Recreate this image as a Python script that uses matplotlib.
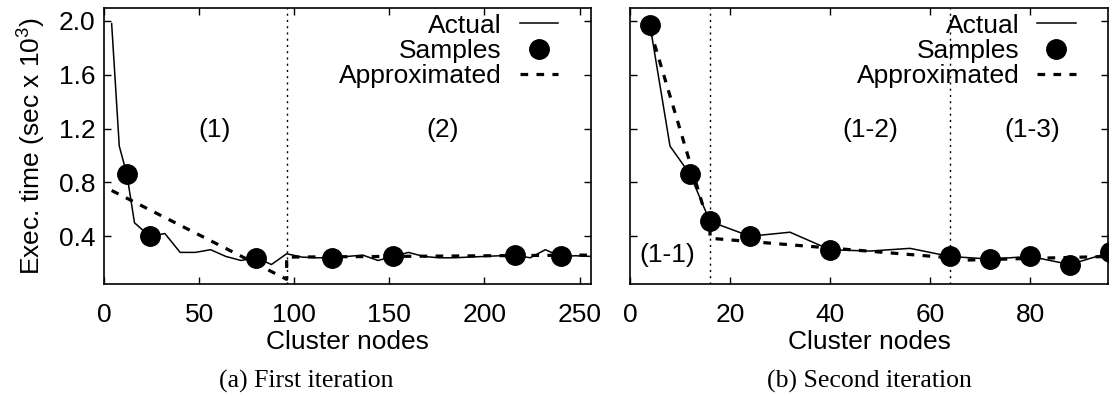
import matplotlib
matplotlib.use('Agg')
import matplotlib.pyplot as plt

plt.rcParams['font.family'] = ['Liberation Sans', 'DejaVu Sans']
plt.rcParams['mathtext.fontset'] = 'custom'
plt.rcParams['mathtext.rm'] = 'Liberation Sans'

# (a) first iteration
actual_a_x = [4, 8, 12, 16, 24, 32, 40, 48, 56, 64, 72, 80, 88, 96, 104, 112, 120, 128,
              136, 144, 152, 160, 168, 176, 184, 192, 200, 208, 216, 224, 232, 240, 248, 256]
actual_a_y = [1.98, 1.07, 0.86, 0.50, 0.40, 0.42, 0.28, 0.28, 0.30, 0.25, 0.22, 0.24, 0.19, 0.27,
              0.245, 0.24, 0.24, 0.25, 0.26, 0.22, 0.25, 0.28, 0.25, 0.24, 0.24, 0.245, 0.25, 0.255,
              0.26, 0.24, 0.30, 0.25, 0.255, 0.25]
samples_a_x = [12, 24, 80, 120, 152, 216, 240]
samples_a_y = [0.86, 0.40, 0.24, 0.24, 0.25, 0.26, 0.25]
approx_a_x = [4, 96, 96, 256]
approx_a_y = [0.74, 0.08, 0.245, 0.26]
splits_a = [96]
regions_a = [(58, 1.19, '(1)'), (178, 1.19, '(2)')]

# (b) second iteration
actual_b_x = [4, 8, 12, 16, 24, 32, 40, 48, 56, 64, 72, 80, 88, 96]
actual_b_y = [1.97, 1.07, 0.86, 0.51, 0.40, 0.43, 0.30, 0.29, 0.31, 0.25, 0.23, 0.25, 0.19, 0.28]
samples_b_x = [4, 12, 16, 24, 40, 64, 72, 80, 88, 96]
samples_b_y = [1.97, 0.86, 0.51, 0.40, 0.30, 0.25, 0.23, 0.25, 0.19, 0.28]
approx_b_x = [4, 16, 16, 64, 64, 96]
approx_b_y = [1.94, 0.45, 0.385, 0.24, 0.22, 0.25]
splits_b = [16, 64]
regions_b = [(7.4, 0.26, '(1-1)'), (48, 1.19, '(1-2)'), (80.4, 1.19, '(1-3)')]

FS = 19

fig = plt.figure(figsize=(11.2, 3.96), dpi=100)
ax_a = fig.add_axes([0.0929, 0.2828, 0.4348, 0.6982])
ax_b = fig.add_axes([0.5625, 0.2828, 0.4268, 0.6982])


def draw(ax, ax_x, ax_y, sx, sy, px, py, splits, regions, xlim, xticks, show_y):
    ax.plot(px, py, color='black', lw=2.3, dashes=(2.4, 2.6), label='Approximated', zorder=2)
    ax.plot(ax_x, ax_y, color='black', lw=1.1, label='Actual', zorder=3)
    ax.plot(sx, sy, 'o', color='black', ms=14, label='Samples', zorder=4)
    for s in splits:
        ax.axvline(s, color='black', lw=1.0, ls=(0, (1.5, 3)), zorder=1)
    for x, y, t in regions:
        ax.text(x, y, t, ha='center', va='center', fontsize=FS)

    ax.set_xlim(*xlim)
    ax.set_ylim(0.045, 2.1)
    ax.set_xticks(xticks)
    ax.set_yticks([0.4, 0.8, 1.2, 1.6, 2.0])
    ax.set_yticklabels(['0.4', '0.8', '1.2', '1.6', '2.0'] if show_y else [])
    ax.tick_params(direction='in', length=5, width=1, top=True, right=True,
                   labelsize=FS, pad=6)
    ax.tick_params(axis='x', pad=13.5)
    for sp in ax.spines.values():
        sp.set_linewidth(1.2)
    ax.set_xlabel('Cluster nodes', fontsize=FS, labelpad=2)

    h, l = ax.get_legend_handles_labels()
    order = [l.index('Actual'), l.index('Samples'), l.index('Approximated')]
    ax.legend([h[i] for i in order], [l[i] for i in order], loc='upper right',
              bbox_to_anchor=(0.932, 0.978), frameon=False, markerfirst=False,
              fontsize=FS, borderpad=0, borderaxespad=0, handlelength=1.45,
              handletextpad=0.68, labelspacing=0.05, numpoints=1)


draw(ax_a, actual_a_x, actual_a_y, samples_a_x, samples_a_y, approx_a_x, approx_a_y,
     splits_a, regions_a, (0, 256), [0, 50, 100, 150, 200, 250], True)
draw(ax_b, actual_b_x, actual_b_y, samples_b_x, samples_b_y, approx_b_x, approx_b_y,
     splits_b, regions_b, (0, 95.6), [0, 20, 40, 60, 80], False)

ax_a.set_ylabel('Exec. time (sec x 10$^3$)', fontsize=FS, labelpad=9)

serif = ['Liberation Serif', 'DejaVu Serif']
fig.text(306 / 1120, 1 - 381 / 396, '(a) First iteration', ha='center', va='center',
         fontsize=18.5, family=serif)
fig.text(869 / 1120, 1 - 381 / 396, '(b) Second iteration', ha='center', va='center',
         fontsize=18.5, family=serif)

fig.savefig('out.png', dpi=100)
